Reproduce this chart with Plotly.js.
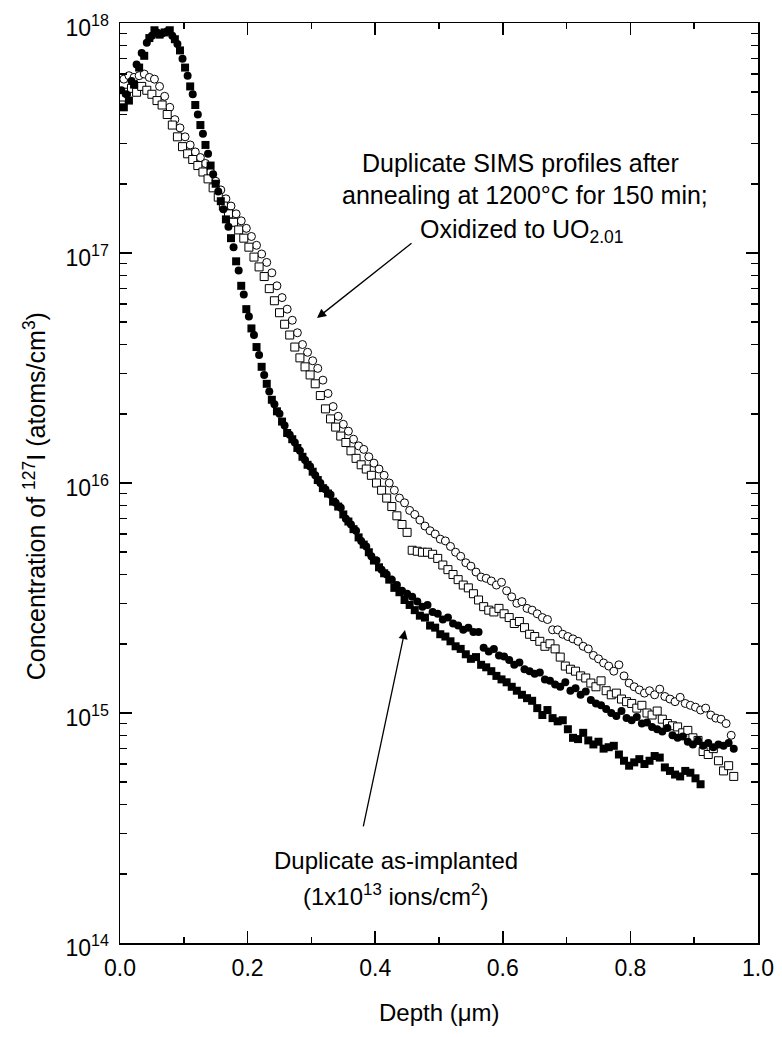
<!DOCTYPE html>
<html>
<head>
<meta charset="utf-8">
<script src="https://cdn.plot.ly/plotly-3.0.1.min.js"></script>
<style>html,body{margin:0;padding:0;background:#fff;}#chart{width:782px;height:1037px;}</style>
</head>
<body>
<div id="chart"></div>
<script>
// Depth grids (µm)
const depthA = [0.002,0.010,0.018,0.026,0.034,0.042,0.050,0.058,0.066,0.074,
0.082,0.090,0.098,0.106,0.114,0.122,0.130,0.138,0.146,0.154,
0.162,0.170,0.178,0.186,0.194,0.202,0.210,0.218,0.226,0.234,
0.242,0.250,0.258,0.266,0.274,0.282,0.290,0.298,0.306,0.314,
0.322,0.330,0.338,0.346,0.354,0.362,0.370,0.378,0.386,0.394,
0.402,0.410,0.418,0.426,0.434,0.442,0.450,0.458,0.466,0.474,
0.482,0.490,0.498,0.506,0.514,0.522,0.530,0.538,0.546,0.554,
0.562,0.570,0.578,0.586,0.594,0.602,0.610,0.618,0.626,0.634,
0.642,0.650,0.658,0.666,0.674,0.682,0.690,0.698,0.706,0.714,
0.722,0.730,0.738,0.746,0.754,0.762,0.770,0.778,0.786,0.794,
0.802,0.810,0.818,0.826,0.834,0.842,0.850,0.858,0.866,0.874,
0.882,0.890,0.898,0.906,0.914,0.922,0.930,0.938,0.946,0.954,
0.962];
const depthB = [0.006,0.014,0.022,0.030,0.038,0.046,0.054,0.062,0.070,0.078,
0.086,0.094,0.102,0.110,0.118,0.126,0.134,0.142,0.150,0.158,
0.166,0.174,0.182,0.190,0.198,0.206,0.214,0.222,0.230,0.238,
0.246,0.254,0.262,0.270,0.278,0.286,0.294,0.302,0.310,0.318,
0.326,0.334,0.342,0.350,0.358,0.366,0.374,0.382,0.390,0.398,
0.406,0.414,0.422,0.430,0.438,0.446,0.454,0.462,0.470,0.478,
0.486,0.494,0.502,0.510,0.518,0.526,0.534,0.542,0.550,0.558,
0.566,0.574,0.582,0.590,0.598,0.606,0.614,0.622,0.630,0.638,
0.646,0.654,0.662,0.670,0.678,0.686,0.694,0.702,0.710,0.718,
0.726,0.734,0.742,0.750,0.758,0.766,0.774,0.782,0.790,0.798,
0.806,0.814,0.822,0.830,0.838,0.846,0.854,0.862,0.870,0.878,
0.886,0.894,0.902,0.910,0.918,0.926,0.934,0.942,0.950,0.958];

// As-implanted #1 (filled circles) on depthA, atoms/cm3
const implantedCircles = [5.1e17,4.9e17,5.6e17,6.6e17,7.4e17,8.2e17,8.8e17,9.1e17,9.0e17,9.2e17,
8.8e17,8.1e17,7.0e17,5.9e17,4.9e17,4.0e17,3.3e17,2.7e17,2.2e17,1.85e17,
1.55e17,1.3e17,1.06e17,8.4e16,6.6e16,5.3e16,4.4e16,3.6e16,2.95e16,2.5e16,
2.2e16,2.0e16,1.78e16,1.62e16,1.5e16,1.38e16,1.26e16,1.18e16,1.08e16,1.0e16,
9.4e15,8.9e15,8.2e15,7.8e15,7.0e15,6.6e15,6.2e15,5.6e15,5.3e15,4.8e15,
4.6e15,4.2e15,4.0e15,3.8e15,3.6e15,3.4e15,3.3e15,3.2e15,3.05e15,2.9e15,
2.95e15,2.75e15,2.7e15,2.55e15,2.6e15,2.45e15,2.4e15,2.3e15,2.35e15,2.25e15,
2.25e15,1.92e15,1.85e15,1.9e15,1.78e15,1.76e15,1.7e15,1.62e15,1.66e15,1.55e15,
1.52e15,1.48e15,1.5e15,1.4e15,1.38e15,1.33e15,1.3e15,1.36e15,1.25e15,1.28e15,
1.2e15,1.24e15,1.14e15,1.1e15,1.08e15,1.04e15,1.0e15,9.7e14,1.02e15,9.5e14,
9.3e14,9.6e14,9.0e14,9.1e14,8.7e14,8.5e14,8.3e14,8.6e14,8.0e14,7.8e14,
7.9e14,7.5e14,7.3e14,7.6e14,7.2e14,7.4e14,7.1e14,7.3e14,7.2e14,7.4e14,
7.0e14];

// As-implanted #2 (filled squares) on depthB (to 0.910 µm)
const implantedSquares = [4.3e17,4.6e17,5.4e17,6.4e17,7.2e17,8.6e17,9.3e17,8.9e17,9.1e17,9.3e17,
8.5e17,7.6e17,6.4e17,5.3e17,4.4e17,3.6e17,2.95e17,2.4e17,2.0e17,1.68e17,
1.4e17,1.16e17,9.2e16,7.2e16,5.7e16,4.7e16,3.9e16,3.2e16,2.7e16,2.3e16,
2.05e16,1.85e16,1.65e16,1.55e16,1.42e16,1.3e16,1.2e16,1.12e16,1.03e16,9.5e15,
9.0e15,8.3e15,7.9e15,7.3e15,6.8e15,6.3e15,5.8e15,5.4e15,5.0e15,4.6e15,
4.3e15,4.05e15,3.8e15,3.5e15,3.35e15,3.1e15,2.95e15,2.8e15,2.65e15,2.6e15,
2.4e15,2.35e15,2.2e15,2.15e15,2.05e15,1.95e15,1.9e15,1.8e15,1.72e15,1.75e15,
1.62e15,1.58e15,1.52e15,1.45e15,1.4e15,1.36e15,1.3e15,1.25e15,1.2e15,1.16e15,
1.13e15,1.05e15,9.8e14,1.03e15,9.5e14,9.2e14,9.3e14,8.5e14,7.8e14,7.7e14,
8.2e14,7.6e14,7.3e14,7.5e14,7.0e14,7.1e14,7.2e14,6.6e14,6.2e14,5.9e14,
6.1e14,6.3e14,6.0e14,6.2e14,6.5e14,6.4e14,5.8e14,5.6e14,5.4e14,5.3e14,
5.6e14,5.5e14,5.2e14,4.9e14];

// Annealed #1 (open circles) on depthB
const annealedCircles = [5.7e17,5.9e17,5.8e17,5.9e17,6.0e17,5.8e17,5.7e17,5.3e17,4.8e17,4.3e17,
3.8e17,3.5e17,3.2e17,2.95e17,2.75e17,2.6e17,2.45e17,2.25e17,2.05e17,1.88e17,
1.72e17,1.6e17,1.48e17,1.38e17,1.28e17,1.18e17,1.08e17,9.9e16,9.1e16,8.2e16,
7.2e16,6.4e16,5.7e16,5.1e16,4.5e16,4.0e16,3.7e16,3.4e16,3.15e16,2.8e16,
2.45e16,2.15e16,1.95e16,1.8e16,1.68e16,1.55e16,1.45e16,1.4e16,1.3e16,1.22e16,
1.15e16,1.08e16,1.0e16,9.3e15,8.6e15,8.2e15,7.6e15,7.3e15,6.9e15,6.5e15,
6.2e15,6.0e15,5.7e15,5.6e15,5.3e15,5.0e15,4.8e15,4.5e15,4.35e15,4.1e15,
3.9e15,3.85e15,3.75e15,3.6e15,3.7e15,3.4e15,3.2e15,3.0e15,3.05e15,2.85e15,
2.8e15,2.7e15,2.6e15,2.55e15,2.3e15,2.3e15,2.2e15,2.15e15,2.1e15,2.05e15,
1.95e15,1.9e15,1.78e15,1.72e15,1.65e15,1.6e15,1.52e15,1.62e15,1.45e15,1.35e15,
1.3e15,1.26e15,1.22e15,1.25e15,1.2e15,1.27e15,1.18e15,1.15e15,1.12e15,1.17e15,
1.1e15,1.08e15,1.06e15,1.03e15,1.05e15,9.8e14,9.5e14,9.4e14,9.0e14,8.0e14];

// Annealed #2 (open squares) on depthA
const annealedSquares = [4.4e17,5.0e17,5.2e17,5.0e17,5.3e17,5.1e17,4.9e17,4.6e17,4.4e17,4.0e17,
3.6e17,3.2e17,2.9e17,2.7e17,2.55e17,2.4e17,2.25e17,2.1e17,1.92e17,1.75e17,
1.6e17,1.48e17,1.36e17,1.26e17,1.16e17,1.06e17,9.6e16,8.7e16,7.9e16,7.0e16,
6.2e16,5.5e16,4.9e16,4.4e16,3.9e16,3.5e16,3.2e16,2.95e16,2.7e16,2.4e16,
2.1e16,1.9e16,1.75e16,1.6e16,1.5e16,1.38e16,1.28e16,1.2e16,1.15e16,1.08e16,
1.0e16,9.3e15,8.6e15,7.9e15,7.2e15,6.6e15,6.1e15,5.1e15,5.05e15,5.0e15,
5.0e15,4.9e15,4.7e15,4.4e15,4.2e15,4.0e15,3.8e15,3.6e15,3.5e15,3.3e15,
3.1e15,2.9e15,2.8e15,2.75e15,2.85e15,2.7e15,2.6e15,2.45e15,2.5e15,2.35e15,
2.2e15,2.15e15,2.05e15,1.95e15,2.0e15,1.9e15,1.75e15,1.6e15,1.55e15,1.52e15,
1.45e15,1.42e15,1.35e15,1.3e15,1.38e15,1.25e15,1.2e15,1.22e15,1.15e15,1.12e15,
1.1e15,1.05e15,1.08e15,1.0e15,9.8e14,1.02e15,9.4e14,9.0e14,8.8e14,8.7e14,
8.2e14,8.4e14,7.8e14,7.6e14,6.8e14,6.6e14,7.0e14,6.2e14,5.6e14,5.9e14,
5.3e14];

// Tick definitions
const xTickVals = [0.0,0.2,0.4,0.6,0.8,1.0];
const xTickText = ["0.0","0.2","0.4","0.6","0.8","1.0"];
const yTickVals = [1e14,1e15,1e16,1e17,1e18];
const yTickText = ["10<sup>14</sup>","10<sup>15</sup>","10<sup>16</sup>","10<sup>17</sup>","10<sup>18</sup>"];

const yMinor = [];
for (let e = 14; e < 18; e++) for (let m = 2; m <= 9; m++) yMinor.push(m * Math.pow(10, e));

const FONT = "Arial, 'Liberation Sans', Helvetica, sans-serif";

const openMarker = (sym) => ({symbol: sym, size: 8, color: 'white', line: {color: 'black', width: 1}});
const fillMarker = (sym) => ({symbol: sym, size: 8, color: 'black', line: {color: 'black', width: 0}});

const traces = [
  {x: depthB, y: annealedCircles, mode: 'markers', type: 'scatter', marker: openMarker('circle'), name: 'annealed 1'},
  {x: depthA, y: annealedSquares, mode: 'markers', type: 'scatter', marker: openMarker('square'), name: 'annealed 2'},
  {x: depthA, y: implantedCircles, mode: 'markers', type: 'scatter', marker: fillMarker('circle'), name: 'as-implanted 1'},
  {x: depthB.slice(0, implantedSquares.length), y: implantedSquares, mode: 'markers', type: 'scatter', marker: fillMarker('square'), name: 'as-implanted 2'}
];

const axisCommon = {
  showline: true, linecolor: 'black', linewidth: 1.5, mirror: 'allticks',
  ticks: 'inside', tickwidth: 1.5, tickcolor: 'black', ticklen: 12,
  showgrid: false, zeroline: false,
  tickfont: {family: FONT, size: 23, color: 'black'}
};

const layout = {
  width: 782, height: 1037,
  margin: {l: 120, r: 24, t: 23, b: 94},
  paper_bgcolor: 'white', plot_bgcolor: 'white',
  showlegend: false,
  font: {family: FONT, color: 'black', size: 20},
  xaxis: Object.assign({}, axisCommon, {
    range: [0, 1], tickmode: 'array', tickvals: xTickVals, ticktext: xTickText,
    ticklabelstandoff: 4,
    minor: {tickmode: 'linear', tick0: 0, dtick: 0.1, ticks: 'inside', ticklen: 6, tickwidth: 1.5, tickcolor: 'black', showgrid: false}
  }),
  yaxis: Object.assign({}, axisCommon, {
    type: 'log', range: [14, 18], tickmode: 'array', tickvals: yTickVals, ticktext: yTickText,
    ticklabelstandoff: 5, ticklabelshift: 5,
    minor: {tickmode: 'array', tickvals: yMinor, ticks: 'inside', ticklen: 7, tickwidth: 1.5, tickcolor: 'black', showgrid: false}
  }),
  annotations: [
    {xref: 'paper', yref: 'paper', x: -0.134, y: 0.485, xanchor: 'center', yanchor: 'middle', textangle: -90, showarrow: false,
     text: 'Concentration of <sup>127</sup>I (atoms/cm<sup>3</sup>)', font: {family: FONT, size: 25, color: 'black'}},
    {xref: 'paper', yref: 'paper', x: 0.5, y: -0.075, xanchor: 'center', yanchor: 'middle', showarrow: false,
     text: 'Depth (μm)', font: {family: FONT, size: 24, color: 'black'}},
    {xref: 'paper', yref: 'paper', x: 0.6285, y: 0.8478, xanchor: 'center', yanchor: 'middle', showarrow: false,
     text: 'Duplicate SIMS profiles after', font: {family: FONT, size: 25, color: 'black'}},
    {xref: 'paper', yref: 'paper', x: 0.635, y: 0.813, xanchor: 'center', yanchor: 'middle', showarrow: false,
     text: 'annealing at 1200°C for 150 min;', font: {family: FONT, size: 25, color: 'black'}},
    {xref: 'paper', yref: 'paper', x: 0.630, y: 0.774, xanchor: 'center', yanchor: 'middle', showarrow: false,
     text: 'Oxidized to UO<sub>2.01</sub>', font: {family: FONT, size: 25, color: 'black'}},
    {xref: 'paper', yref: 'paper', x: 0.4326, y: 0.0902, xanchor: 'center', yanchor: 'middle', showarrow: false,
     text: 'Duplicate as-implanted', font: {family: FONT, size: 24, color: 'black'}},
    {xref: 'paper', yref: 'paper', x: 0.4326, y: 0.0522, xanchor: 'center', yanchor: 'middle', showarrow: false,
     text: '(1x10<sup>13</sup> ions/cm<sup>2</sup>)', font: {family: FONT, size: 24, color: 'black'}},
    {xref: 'x', yref: 'y', x: 0.3088, y: 16.717, axref: 'pixel', ayref: 'pixel', ax: 96, ay: -76, text: '',
     showarrow: true, arrowhead: 2, arrowsize: 1.4, arrowwidth: 1.3, arrowcolor: 'black', standoff: 0},
    {xref: 'x', yref: 'y', x: 0.4467, y: 15.361, axref: 'pixel', ayref: 'pixel', ax: -42, ay: 198, text: '',
     showarrow: true, arrowhead: 2, arrowsize: 1.4, arrowwidth: 1.3, arrowcolor: 'black', standoff: 0}
  ]
};

Plotly.newPlot('chart', traces, layout, {staticPlot: true, displayModeBar: false});
</script>
</body>
</html>
